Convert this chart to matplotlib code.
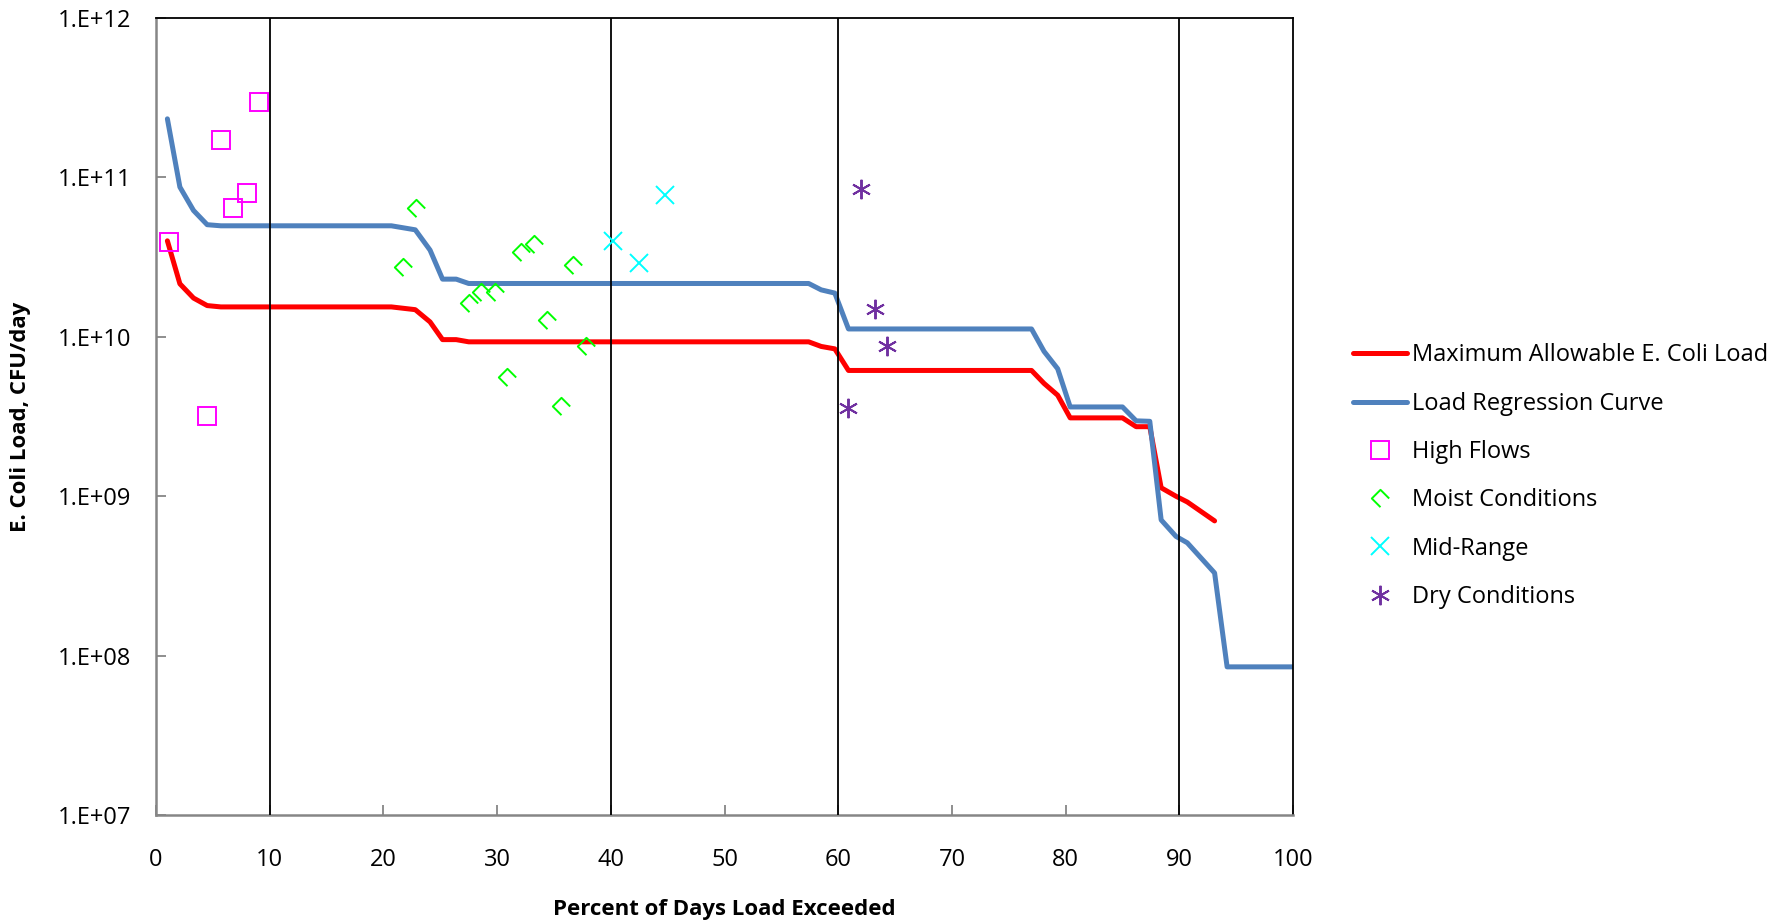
import matplotlib
matplotlib.use('Agg')
import matplotlib.pyplot as plt
from matplotlib.path import Path

plt.rcParams['font.family'] = ['Open Sans', 'DejaVu Sans']

# load duration curves (percent of days exceeded, CFU/day)
pct_curve = [1.0, 2.1, 3.3, 4.5, 5.7, 20.7, 22.8, 24.1, 25.2, 26.4, 27.5, 57.4, 58.5, 59.7,
             60.9, 77.0, 78.1, 79.3, 80.4, 85.0, 86.2, 87.4, 88.4, 89.7, 90.7, 93.1, 94.2, 100.0]
max_load = [4.0e10, 2.15e10, 1.75e10, 1.57e10, 1.54e10, 1.54e10, 1.48e10, 1.24e10, 9.6e9, 9.6e9,
            9.3e9, 9.3e9, 8.7e9, 8.4e9, 6.15e9, 6.15e9, 5.1e9, 4.3e9, 3.1e9, 3.1e9, 2.73e9,
            2.73e9, 1.13e9, 1.0e9, 9.2e8, 7.0e8]
regr_load = [2.33e11, 8.7e10, 6.2e10, 5.05e10, 4.97e10, 4.97e10, 4.69e10, 3.5e10, 2.3e10, 2.3e10,
             2.16e10, 2.16e10, 1.97e10, 1.88e10, 1.12e10, 1.12e10, 8.1e9, 6.3e9, 3.63e9, 3.63e9,
             2.97e9, 2.95e9, 7.1e8, 5.6e8, 5.1e8, 3.3e8, 8.5e7, 8.5e7]

# sampled loads by flow condition
high_x = [1.1, 5.7, 9.1, 8.0, 6.8, 4.5]
high_y = [3.96e10, 1.72e11, 2.97e11, 7.96e10, 6.4e10, 3.2e9]
moist_x = [22.9, 21.7, 33.2, 32.1, 36.7, 27.5, 28.6, 29.8, 34.4, 37.8, 30.9, 35.6]
moist_y = [6.4e10, 2.76e10, 3.8e10, 3.4e10, 2.83e10, 1.63e10, 1.9e10, 1.9e10, 1.27e10,
           8.8e9, 5.6e9, 3.66e9]
mid_x = [44.8, 40.2, 42.5]
mid_y = [7.7e10, 4.0e10, 2.9e10]
dry_x = [62.0, 63.2, 64.3, 60.9]
dry_y = [8.45e10, 1.5e10, 8.7e9, 3.57e9]

zone_bounds = [10, 40, 60, 90]
ytick_vals = [1e7, 1e8, 1e9, 1e10, 1e11, 1e12]
ytick_labels = ['1.E+07', '1.E+08', '1.E+09', '1.E+10', '1.E+11', '1.E+12']

# open diamond missing its lower-right side
moist_marker = Path([(0, -1), (-1, 0), (0, 1), (1, 0)],
                    [Path.MOVETO, Path.LINETO, Path.LINETO, Path.LINETO])

fig = plt.figure(figsize=(17.85, 9.23), dpi=100)
ax = fig.add_axes([0.0874, 0.117, 0.637, 0.8635])

ax.plot(pct_curve[:len(max_load)], max_load, color='#FF0000', lw=3.6,
        solid_capstyle='round', solid_joinstyle='round', label='Maximum Allowable E. Coli Load', zorder=2)
ax.plot(pct_curve, regr_load, color='#4F81BD', lw=3.6,
        solid_capstyle='round', solid_joinstyle='round', label='Load Regression Curve', zorder=2)
ax.plot(high_x, high_y, ls='none', marker='s', ms=13, mfc='none', mec='#FF00FF', mew=1.4,
        label='High Flows', zorder=4)
ax.plot(moist_x, moist_y, ls='none', marker=moist_marker, ms=12.5, mfc='none', mec='#00FF00',
        mew=1.4, label='Moist Conditions', zorder=4)
ax.plot(mid_x, mid_y, ls='none', marker='x', ms=13, mec='#00FFFF', mew=1.4,
        label='Mid-Range', zorder=4)
ax.plot(dry_x, dry_y, ls='none', marker=(6, 2, 0), ms=14, mec='#7030A0', mew=1.4,
        label='Dry Conditions', zorder=4)

for xb in zone_bounds:
    ax.axvline(xb, color='black', lw=1.3, zorder=3)

ax.set_yscale('log')
ax.set_xlim(0, 100)
ax.set_ylim(1e7, 1e12)
ax.set_xticks(range(0, 101, 10))
ax.set_yticks(ytick_vals)
ax.set_yticklabels(ytick_labels)
ax.minorticks_off()
ax.tick_params(axis='both', direction='in', length=7, width=1.3, color='#868686', labelsize=17)
ax.tick_params(axis='x', pad=24)
ax.tick_params(axis='y', pad=18)

for side in ['left', 'bottom']:
    ax.spines[side].set_color('#868686')
    ax.spines[side].set_linewidth(1.8)
for side in ['top', 'right']:
    ax.spines[side].set_color('black')
    ax.spines[side].set_linewidth(1.3)

ax.set_xlabel('Percent of Days Load Exceeded', fontsize=16, fontweight='bold', va='center')
ax.xaxis.set_label_coords(0.5, -0.119)
ax.set_ylabel('E. Coli Load, CFU/day', fontsize=16, fontweight='bold', va='center')
ax.yaxis.set_label_coords(-0.119, 0.5)

fig.legend(loc='center left', bbox_to_anchor=(0.758, 0.484), frameon=False, fontsize=17,
           handlelength=2.3, handletextpad=0.2, labelspacing=1.03, borderpad=0, borderaxespad=0)

fig.savefig('out.png', dpi=100)
